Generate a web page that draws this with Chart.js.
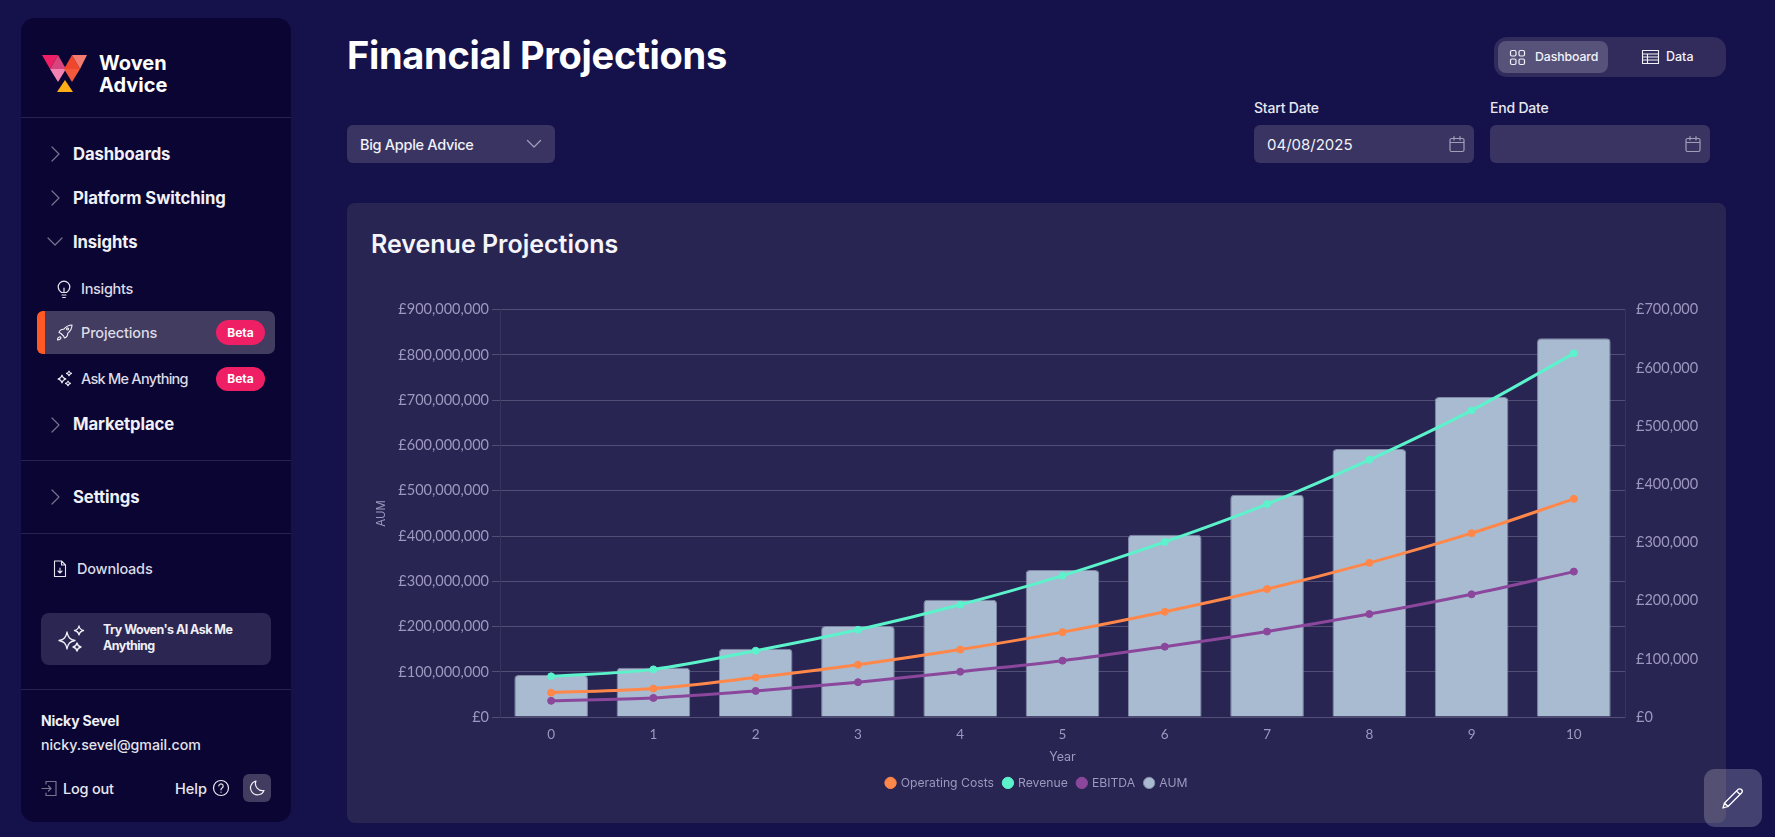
<!DOCTYPE html>
<html>
<head>
<meta charset="utf-8">
<title>Financial Projections</title>
<script src="https://cdn.jsdelivr.net/npm/chart.js@4"></script>
<style>
  html, body { margin: 0; padding: 0; width: 1775px; height: 837px; overflow: hidden; background: #15124b; }
  body { font-family: Inter, "Noto Sans", sans-serif; color: #fff; position: relative; }
  .abs, .t { position: absolute; }
  .t { white-space: nowrap; line-height: 20px; }
  .sidebar { position: absolute; left: 21px; top: 18px; width: 270px; height: 804px; background: #0a0532; border-radius: 14px; }
  .divider { position: absolute; left: 21px; width: 270px; height: 1px; background: #26224c; }
  .nav { font-size: 16.7px; font-weight: 700; color: #f1f0f6; letter-spacing: -0.1px; }
  .sub { font-size: 14.5px; font-weight: 500; color: #dcdbe6; letter-spacing: -0.3px; }
  .beta { position: absolute; width: 49px; height: 25px; line-height: 25px; border-radius: 13px; background: #ee1f64; text-align: center; font-size: 12px; font-weight: 700; color: #fff; }
  .box { position: absolute; background: #393461; border-radius: 6px; }
  .card { position: absolute; left: 347px; top: 203px; width: 1379px; height: 620px; background: #292552; border-radius: 8px; }
  canvas { position: absolute; }
  svg { position: absolute; fill: none; stroke-linecap: round; stroke-linejoin: round; }
  .pencil { position: absolute; left: 1704px; top: 769px; width: 58px; height: 58px; border-radius: 11px; background: rgba(255,255,255,0.2); }
</style>
</head>
<body>

<div class="sidebar"></div>
<svg style="left:41px;top:54px" width="47" height="39" viewBox="0 0 47 39">
  <polygon points="1,1 17,1 9,15" fill="#ee1f64"/>
  <polygon points="17,1 25,15 9,15" fill="#d9447f"/>
  <polygon points="9,15 25,15 17,28" fill="#f283b3"/>
  <polygon points="31,1 23,15 39,15" fill="#f0462b"/>
  <polygon points="31,1 46,1 39,15" fill="#f47b70"/>
  <polygon points="23,15 39,15 31,28" fill="#f2583c"/>
  <polygon points="24,26 32,38 16,38" fill="#ffae17"/>
</svg>
<div class="t" style="left:99px;top:52px;font-size:20px;font-weight:700;line-height:22px">Woven<br>Advice</div>
<div class="divider" style="top:117px"></div>

<svg style="left:50px;top:146px" width="12" height="16" stroke="#77748f" stroke-width="1.2"><path d="M2 1l7 7-7 7"/></svg>
<div class="t nav" style="left:73px;top:144px">Dashboards</div>
<svg style="left:50px;top:190px" width="12" height="16" stroke="#77748f" stroke-width="1.2"><path d="M2 1l7 7-7 7"/></svg>
<div class="t nav" style="left:73px;top:188px">Platform Switching</div>
<svg style="left:47px;top:237px" width="17" height="10" stroke="#77748f" stroke-width="1.2"><path d="M1 1l7 7 7-7"/></svg>
<div class="t nav" style="left:73px;top:232px">Insights</div>

<svg style="left:57px;top:280px" width="14" height="19" stroke="#e6e5ee" stroke-width="1.2"><path d="M4.5 12.5C2.5 11 1.2 9.4 1.2 7a5.8 5.8 0 0 1 11.6 0c0 2.4-1.3 4-3.3 5.5zM5 15h4M5.7 17.5h2.6M7 12.5V8"/></svg>
<div class="t sub" style="left:81px;top:279px">Insights</div>

<div class="abs" style="left:37px;top:311px;width:238px;height:43px;background:#413c60;border-radius:7px"></div>
<div class="abs" style="left:37px;top:311px;width:8px;height:43px;background:#ff5a26;border-radius:6px 0 0 6px"></div>
<svg style="left:56px;top:324px" width="17" height="17" stroke="#f0eff5" stroke-width="1.1"><path d="M5 9.5L3 8.5c1-3 3-3.3 4.7-3.2C10 2.500 12.500 1 16 1c0 3.500-1.500 6-4.300 8.300.1 1.700-.2 3.700-3.200 4.700l-1-2zM5 9.500l2.500 2.500M1.500 16c0-2 1-3 2.500-3.200.9.100 1 1 .9 1.500-.5 1.200-1.900 1.700-3.400 1.700zM11.500 4a1 1 0 1 0 .1 0"/></svg>
<div class="t sub" style="left:81px;top:323px;letter-spacing:-0.15px">Projections</div>
<div class="beta" style="left:216px;top:320px">Beta</div>

<svg style="left:56px;top:370px" width="17" height="17" fill="none" stroke="#f0eff5" stroke-width="1.1"><path d="M6 5c.5 2.500 1.500 3.500 4 4-2.500.5-3.500 1.500-4 4-.5-2.500-1.500-3.500-4-4 2.500-.5 3.500-1.500 4-4zM13 1c.3 1.500.8 2 2.500 2.400-1.700.4-2.200.9-2.500 2.400-.3-1.500-.8-2-2.500-2.400C12.200 3 12.700 2.500 13 1zM12 11c.3 1.500.8 2 2.500 2.400-1.700.4-2.200.9-2.500 2.400-.3-1.500-.8-2-2.500-2.400 1.700-.4 2.200-.9 2.500-2.400z"/></svg>
<div class="t sub" style="left:81px;top:369px;letter-spacing:-0.75px">Ask Me Anything</div>
<div class="beta" style="left:216px;top:367px;height:24px;line-height:24px">Beta</div>

<svg style="left:50px;top:417px" width="12" height="16" stroke="#77748f" stroke-width="1.2"><path d="M2 1l7 7-7 7"/></svg>
<div class="t nav" style="left:73px;top:414px">Marketplace</div>
<div class="divider" style="top:460px"></div>
<svg style="left:50px;top:489px" width="12" height="16" stroke="#77748f" stroke-width="1.2"><path d="M2 1l7 7-7 7"/></svg>
<div class="t nav" style="left:73px;top:487px">Settings</div>
<div class="divider" style="top:533px"></div>

<svg style="left:53px;top:560px" width="14" height="18" stroke="#e6e5ee" stroke-width="1.1"><path d="M1.500 1h7l4 4v11.500h-11zM8.500 1v4h4M7 8v5M5 11l2 2 2-2"/></svg>
<div class="t sub" style="left:77px;top:559px;letter-spacing:-0.2px">Downloads</div>

<div class="abs" style="left:41px;top:613px;width:230px;height:52px;background:#2b2752;border-radius:8px"></div>
<svg style="left:56px;top:624px" width="30" height="30" stroke="#f2f1f7" stroke-width="1.3"><path d="M11 8c1 5.500 3 7.500 8 8.500-5 1-7 3-8 8.500-1-5.500-3-7.500-8-8.500 5-1 7-3 8-8.500zM23 2c.5 2.800 1.500 3.800 4.500 4.500-3 .7-4 1.700-4.500 4.500-.5-2.800-1.500-3.800-4.500-4.500 3-.7 4-1.700 4.500-4.500zM21 19c.5 2.500 1.300 3.300 4 4-2.700.7-3.500 1.500-4 4-.5-2.500-1.300-3.300-4-4 2.700-.7 3.500-1.500 4-4z"/></svg>
<div class="t" style="left:103px;top:622px;font-size:12.5px;font-weight:700;line-height:16px;color:#f0eff6;letter-spacing:-0.55px">Try Woven's AI Ask Me<br>Anything</div>
<div class="divider" style="top:689px"></div>

<div class="t" style="left:41px;top:711px;font-size:14px;font-weight:700;color:#f1f0f6;letter-spacing:-0.2px">Nicky Sevel</div>
<div class="t" style="left:41px;top:735px;font-size:14.2px;font-weight:500;color:#e4e3ec">nicky.sevel@gmail.com</div>
<svg style="left:41px;top:780px" width="17" height="17" stroke="#77748f" stroke-width="1.2"><path d="M5 4V1.500h10v14H5V13M1 8.500h9M7.500 6l2.500 2.500L7.500 11"/></svg>
<div class="t" style="left:63px;top:779px;font-size:14.5px;font-weight:500;color:#e8e7ef;letter-spacing:-0.2px">Log out</div>
<div class="t" style="left:175px;top:779px;font-size:14.5px;font-weight:500;color:#e8e7ef">Help</div>
<svg style="left:212px;top:779px" width="18" height="18" stroke="#e8e7ef" stroke-width="1.2"><circle cx="9" cy="9" r="7.500"/><path d="M6.800 7a2.200 2.200 0 1 1 3.300 2c-.8.500-1.100.9-1.100 1.800M9 13v.2"/></svg>
<div class="abs" style="left:243px;top:774px;width:28px;height:28px;border-radius:6px;background:#413c60"></div>
<svg style="left:249px;top:780px" width="16" height="16" stroke="#f0eff5" stroke-width="1.2"><path d="M7 1a7 7 0 1 0 8 9.500A7 7 0 0 1 7 1z"/></svg>

<div class="t" id="pageTitle" style="left:347px;top:33px;font-size:38px;font-weight:700;line-height:44px;letter-spacing:-0.3px">Financial Projections</div>

<div class="abs" style="left:1494px;top:37px;width:232px;height:40px;background:#312c5c;border-radius:13px"></div>
<div class="abs" style="left:1498px;top:41px;width:110px;height:32px;background:#57527a;border-radius:8px"></div>
<svg style="left:1509px;top:49px" width="17" height="17" stroke="#f2f1f7" stroke-width="1.2"><rect x="1.500" y="1.500" width="5.500" height="5.500" rx="1.500"/><rect x="10" y="1.500" width="5.500" height="5.500" rx="1.500"/><rect x="1.500" y="10" width="5.500" height="5.500" rx="1.500"/><rect x="10" y="10" width="5.500" height="5.500" rx="1.500"/></svg>
<div class="t" style="left:1535px;top:47px;font-size:12.3px;font-weight:500;color:#f2f1f7;letter-spacing:-0.1px">Dashboard</div>
<svg style="left:1641px;top:49px" width="20" height="16" stroke="#f2f1f7" stroke-width="1.100"><path d="M1.500 1.500h16v13h-16zM1.500 5h16M1.500 8h16M1.500 11h16M6.500 5v9.500"/></svg>
<div class="t" style="left:1666px;top:47px;font-size:12.5px;font-weight:500;color:#f2f1f7">Data</div>

<div class="t" style="left:1254px;top:98px;font-size:14px;font-weight:500;color:#e8e7ef;letter-spacing:-0.2px">Start Date</div>
<div class="t" style="left:1490px;top:98px;font-size:14px;font-weight:500;color:#e8e7ef;letter-spacing:-0.2px">End Date</div>

<div class="box" style="left:347px;top:125px;width:208px;height:38px"></div>
<div class="t" style="left:360px;top:135px;font-size:14.5px;font-weight:500;color:#f2f1f7;letter-spacing:-0.3px">Big Apple Advice</div>
<svg style="left:526px;top:139px" width="16" height="10" stroke="#a19fb8" stroke-width="1.300"><path d="M1.500 1.500L8 8l6.500-6.500"/></svg>

<div class="box" style="left:1254px;top:125px;width:220px;height:38px"></div>
<div class="t" style="left:1267px;top:135px;font-size:15px;font-weight:400;color:#f2f1f7">04/08/2025</div>
<svg style="left:1449px;top:135px" width="16" height="18" stroke="#a19fb8" stroke-width="1.200"><path d="M2.500 3.500h11a1.500 1.500 0 0 1 1.500 1.500v10a1.500 1.500 0 0 1-1.500 1.500h-11A1.500 1.500 0 0 1 1 15V5a1.500 1.500 0 0 1 1.500-1.500zM1 7.500h14M5 1.500v3.500M11 1.500v3.500"/></svg>
<div class="box" style="left:1490px;top:125px;width:220px;height:38px"></div>
<svg style="left:1685px;top:135px" width="16" height="18" stroke="#a19fb8" stroke-width="1.200"><path d="M2.500 3.500h11a1.500 1.500 0 0 1 1.500 1.500v10a1.500 1.500 0 0 1-1.500 1.500h-11A1.500 1.500 0 0 1 1 15V5a1.500 1.500 0 0 1 1.500-1.500zM1 7.500h14M5 1.500v3.500M11 1.500v3.500"/></svg>

<div class="card"></div>
<div class="t" style="left:371px;top:228px;font-size:25px;font-weight:600;line-height:32px;color:#f5f4fa">Revenue Projections</div>

<canvas id="projectionChart" width="1324" height="501" style="left:375px;top:298px;width:1324px;height:501px"></canvas>

<div class="pencil"></div>
<svg style="left:1721px;top:786px" width="24" height="24" stroke="#fff" stroke-width="1.300"><path d="M2 22l1.500-5L17 3.500a2 2 0 0 1 3.500 3.500L7 20.500zM3.500 17L7 20.500M15.500 5l3.500 3.500"/></svg>

<script>
// values
const years = ["0", "1", "2", "3", "4", "5", "6", "7", "8", "9", "10"];
const operatingCosts = [42000, 49000, 68000, 90000, 116000, 146000, 181000, 220000, 265000, 316000, 375000];
const revenue = [70000, 82000, 114000, 150000, 193000, 243000, 301000, 366000, 442000, 527000, 625000];
const ebitda = [28000, 33000, 45000, 60000, 78000, 97000, 121000, 147000, 177000, 211000, 250000];
const aum = [93000000, 109000000, 151000000, 201000000, 259000000, 325000000, 403000000, 491000000, 592000000, 707000000, 837000000];

const tickColor = "#9c98bf";
const gridColor = "#524e76";
const axisLine = "#38345c";
const chartFont = "Lato, sans-serif";
const labelFont = "Inter, sans-serif";

function lineSet(label, data, color) {
  return {
    type: "line",
    label,
    data,
    yAxisID: "yRight",
    borderColor: color,
    backgroundColor: color,
    borderWidth: 3,
    pointRadius: 3.5,
    pointBorderWidth: 1,
    pointBackgroundColor: color,
    tension: 0.4,
    cubicInterpolationMode: "monotone",
  };
}

function pounds(v) {
  return "£" + Number(v).toLocaleString("en-GB");
}

new Chart(document.getElementById("projectionChart"), {
  data: {
    labels: years,
    datasets: [
      lineSet("Operating Costs", operatingCosts, "#ff874a"),
      lineSet("Revenue", revenue, "#5cf2cc"),
      lineSet("EBITDA", ebitda, "#8a479b"),
      {
        type: "bar",
        label: "AUM",
        data: aum,
        yAxisID: "yLeft",
        backgroundColor: "#a9bbd0",
        borderColor: "#7f89a6",
        borderWidth: 1,
        borderRadius: 4,
      },
    ],
  },
  options: {
    responsive: false,
    animation: false,
    devicePixelRatio: 1,
    layout: { padding: { top: 6 } },
    font: { family: chartFont },
    scales: {
      x: {
        grid: { drawOnChartArea: false, tickColor: "transparent", tickLength: 4 },
        border: { display: false },
        ticks: { color: tickColor, font: { family: chartFont, size: 13.5 }, padding: 5 },
        title: { display: true, text: "Year", color: tickColor, font: { family: labelFont, size: 12.5 }, padding: { top: 2.5, bottom: 2 } },
      },
      yLeft: {
        position: "left",
        min: 0,
        max: 900000000,
        afterFit: (scale) => { scale.width = 125; },
        ticks: { stepSize: 100000000, color: tickColor, font: { family: chartFont, size: 14.5 }, padding: 3, callback: pounds },
        grid: { color: gridColor, tickColor: gridColor, tickLength: 8 },
        border: { color: axisLine },
        title: { display: true, text: "AUM", color: tickColor, font: { family: labelFont, size: 11.5 }, padding: { top: 0, bottom: 4 } },
      },
      yRight: {
        position: "right",
        min: 0,
        max: 700000,
        afterFit: (scale) => { scale.width = 74; },
        ticks: { stepSize: 100000, color: tickColor, font: { family: chartFont, size: 14.5 }, padding: 3, callback: pounds },
        grid: { drawOnChartArea: false, tickColor: "transparent", tickLength: 8 },
        border: { color: axisLine },
      },
    },
    plugins: {
      tooltip: { enabled: false },
      legend: {
        position: "bottom",
        labels: {
          color: tickColor,
          font: { family: labelFont, size: 12.2 },
          usePointStyle: true,
          pointStyle: "circle",
          boxWidth: 8,
          boxHeight: 8,
          padding: 10,
        },
      },
    },
  },
});
</script>
</body>
</html>
